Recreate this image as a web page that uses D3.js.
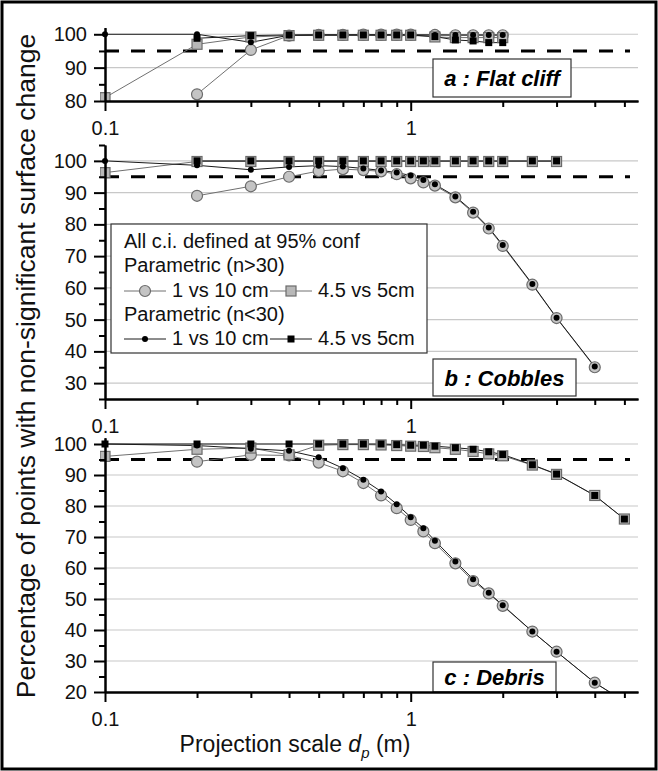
<!DOCTYPE html>
<html>
<head>
<meta charset="utf-8">
<script src="https://cdnjs.cloudflare.com/ajax/libs/d3/7.8.5/d3.min.js"></script>
<style>
body { margin: 0; background: #fff; }
svg { display: block; font-family: "Liberation Sans", Arial, sans-serif; }
.axis .domain { stroke: #000; stroke-width: 2; }
.axis .tick line { stroke: #000; stroke-width: 2; }
.axis .tick text { font-size: 20px; fill: #111; font-family: "Liberation Sans", Arial, sans-serif; }
</style>
</head>
<body>
<svg class="chart"></svg>
<script>
var width = 658,
    height = 771;

// projection scales (m)
var xA = [0.1, 0.2, 0.3, 0.4, 0.5, 0.6, 0.7, 0.8, 0.9, 1.0, 1.2, 1.4, 1.6, 1.8, 2.0];
var xB = [0.1, 0.2, 0.3, 0.4, 0.5, 0.6, 0.7, 0.8, 0.9, 1.0, 1.1, 1.2, 1.4, 1.6, 1.8, 2.0, 2.5, 3.0, 4.0];
var xC = [0.1, 0.2, 0.3, 0.4, 0.5, 0.6, 0.7, 0.8, 0.9, 1.0, 1.1, 1.2, 1.4, 1.6, 1.8, 2.0, 2.5, 3.0, 4.0, 5.0];

// a : Flat cliff
var aCircGray = [82, 95.3, 99.6, 99.8, 99.8, 99.9, 99.9, 99.9, 99.9, 99.8, 99.7, 99.7, 99.7, 99.7];      // from 0.2
var aSqGray   = [81, 97, 99.2, 99.6, 99.7, 99.7, 99.7, 99.7, 99.7, 99.7, 99.2, 99, 99, 99, 99];
var aDotBlack = [100, 100, 97.6, 99.7, 99.8, 99.8, 99.8, 99.8, 99.8, 99.8, 99.8, 99.8, 99.8, 99.8, 99.8];
var aSqBlack  = [98.8, 99.6, 99.8, 99.8, 99.8, 99.8, 99.8, 99.8, 99.8, 99.3, 98.3, 98, 97.5, 97.5];       // from 0.2

// b : Cobbles
var bCircGray = [89, 92, 95, 96.8, 97.4, 97.1, 96.7, 95.8, 94.5, 93.2, 92.2, 88.5, 83.7, 78.7, 73.2, 61, 50.5, 35]; // from 0.2
var bSqGray   = [96.3, 99.8, 99.8, 99.8, 99.8, 99.8, 99.8, 99.8, 99.8, 99.8, 99.8, 99.8, 99.8, 99.8, 99.8, 99.8, 99.8, 99.8]; // to 3.0
var bDotBlack = [100, 98.6, 97.2, 98.1, 98.5, 98.2, 97.6, 97, 96.3, 95.4, 94, 92.6, 88.8, 84, 79, 73.5, 61.2, 50.6, 35.2];
var bSqBlack  = [100, 100, 100, 100, 100, 100, 100, 100, 100, 100, 100, 100, 100, 100, 100, 100, 100];  // 0.2 to 3.0

// c : Debris
var cCircGray = [94.3, 96.5, 96.3, 94, 91.2, 87.4, 83.4, 79.3, 75.5, 71.8, 68, 61.5, 55.8, 51.8, 47.8, 39.5, 33, 23, 17]; // from 0.2
var cSqGray   = [96, 98.3, 98.7, 96.5, 99.6, 99.8, 99.8, 99.7, 99.5, 99.3, 99.2, 98.8, 98.3, 97.6, 96.8, 96.2, 93.2, 90.2, 83.4, 75.8];
var cDotBlack = [100, 99.5, 98.5, 97.8, 95.7, 92.2, 88.5, 84.7, 80.6, 76.4, 72.8, 68.8, 62.1, 56.4, 52, 48, 39.5, 33, 23, 17];
var cSqBlack  = [100, 100, 100, 100, 100, 100, 100, 100, 99.8, 99.6, 99.6, 99.3, 98.8, 98.3, 97.5, 96.6, 93.3, 90.3, 83.4, 75.8];

var xMajor = [0.1, 1];
var xMinor = [0.2, 0.3, 0.4, 0.5, 0.6, 0.7, 0.8, 0.9, 2, 3, 4, 5];

var legendTitle = ["All c.i. defined at 95% conf", "Parametric (n>30)", "Parametric (n<30)"];
var legendNames = ["1 vs 10 cm", "4.5 vs 5cm"];

var panels = [
  { label: "a : Flat cliff", yDomain: [80, 102], yRange: [101, 27.6], box: [433, 59, 138, 38],
    series: [[xA.slice(1), aCircGray, "circGray"], [xA, aSqGray, "sqGray"], [xA, aDotBlack, "dotBlack"], [xA.slice(1), aSqBlack, "sqBlack"]] },
  { label: "b : Cobbles", yDomain: [25, 105], yRange: [399, 145], box: [433, 359, 143, 37],
    series: [[xB.slice(1), bCircGray, "circGray"], [xB.slice(0, 18), bSqGray, "sqGray"], [xB, bDotBlack, "dotBlack"], [xB.slice(1, 18), bSqBlack, "sqBlack"]] },
  { label: "c : Debris", yDomain: [20, 102], yRange: [692, 437.8], box: [433, 662, 123, 30],
    series: [[xC.slice(1), cCircGray, "circGray"], [xC, cSqGray, "sqGray"], [xC, cDotBlack, "dotBlack"], [xC, cSqBlack, "sqBlack"]] }
];

var x = d3.scaleLog()
    .domain([0.1, 5.54])
    .range([105, 638]);

var chart = d3.select(".chart")
    .attr("width", width)
    .attr("height", height);

chart.append("rect")
    .attr("x", 2).attr("y", 2)
    .attr("width", width - 4).attr("height", height - 4)
    .attr("fill", "#fff").attr("stroke", "#000").attr("stroke-width", 3);

function drawMarker(g, type, cx, cy) {
  if (type == "circGray") {
    g.append("circle").attr("cx", cx).attr("cy", cy).attr("r", 5.5)
      .attr("fill", "#c4c4c4").attr("stroke", "#6b6b6b").attr("stroke-width", 1.2);
  } else if (type == "sqGray") {
    g.append("rect").attr("x", cx - 5).attr("y", cy - 5).attr("width", 10).attr("height", 10)
      .attr("fill", "#b8b8b8").attr("stroke", "#6b6b6b").attr("stroke-width", 1.2);
  } else if (type == "dotBlack") {
    g.append("circle").attr("cx", cx).attr("cy", cy).attr("r", 3).attr("fill", "#000");
  } else {
    g.append("rect").attr("x", cx - 3.5).attr("y", cy - 3.5).attr("width", 7).attr("height", 7).attr("fill", "#000");
  }
}

panels.forEach(function(p, i) {
  var y = d3.scaleLinear().domain(p.yDomain).range(p.yRange);
  var g = chart.append("g");

  var gridVals = d3.range(Math.ceil(p.yDomain[0] / 10) * 10, 101, 10).filter(function(v) { return v > p.yDomain[0]; });
  g.selectAll(".grid").data(gridVals).enter().append("line")
    .attr("x1", x.range()[0]).attr("x2", x.range()[1])
    .attr("y1", function(d) { return y(d); }).attr("y2", function(d) { return y(d); })
    .attr("stroke", "#c8c8c8").attr("stroke-width", 1.2);

  g.append("line")
    .attr("x1", 105).attr("x2", 630)
    .attr("y1", y(95)).attr("y2", y(95))
    .attr("stroke", "#000").attr("stroke-width", 3).attr("stroke-dasharray", "14,12");

  var clipId = "clip" + i;
  chart.append("clipPath").attr("id", clipId).append("rect")
    .attr("x", 100).attr("y", p.yRange[1] - 10)
    .attr("width", 545).attr("height", p.yRange[0] - p.yRange[1] + 10);

  var plot = g.append("g").attr("clip-path", "url(#" + clipId + ")");

  p.series.forEach(function(s) {
    var pts = s[0].map(function(xv, j) { return [x(xv), y(s[1][j])]; });
    var gray = s[2] == "circGray" || s[2] == "sqGray";
    plot.append("path")
      .attr("d", d3.line()(pts))
      .attr("fill", "none")
      .attr("stroke", gray ? "#707070" : "#1a1a1a")
      .attr("stroke-width", 1);
  });
  p.series.forEach(function(s) {
    s[0].forEach(function(xv, j) { drawMarker(plot, s[2], x(xv), y(s[1][j])); });
  });

  // panel label
  var b = p.box;
  g.append("rect").attr("x", b[0]).attr("y", b[1]).attr("width", b[2]).attr("height", b[3])
    .attr("fill", "#fff").attr("stroke", "#333").attr("stroke-width", 1.2);
  g.append("text")
    .attr("x", b[0] + b[2] / 2).attr("y", b[1] + b[3] / 2 + 8)
    .attr("text-anchor", "middle")
    .style("font-size", "22px").style("font-weight", "bold").style("font-style", "italic")
    .text(p.label);

  // axes
  var yMajor = d3.range(Math.ceil(p.yDomain[0] / 10) * 10, 101, 10);
  var yMinor = d3.range(Math.ceil(p.yDomain[0] / 5) * 5, p.yDomain[1] + 0.1, 5).filter(function(v) { return v % 10 != 0; });

  g.append("g").attr("class", "axis")
    .attr("transform", "translate(105,0)")
    .call(d3.axisLeft(y).tickValues(yMinor).tickSize(6).tickSizeOuter(0).tickFormat(""));
  g.append("g").attr("class", "axis")
    .attr("transform", "translate(105,0)")
    .call(d3.axisLeft(y).tickValues(yMajor).tickSize(11).tickSizeOuter(0).tickPadding(7));

  g.append("g").attr("class", "axis")
    .attr("transform", "translate(0," + p.yRange[0] + ")")
    .call(d3.axisBottom(x).tickValues(xMinor).tickSize(6).tickSizeOuter(0).tickFormat(""));
  g.append("g").attr("class", "axis")
    .attr("transform", "translate(0," + p.yRange[0] + ")")
    .call(d3.axisBottom(x).tickValues(xMajor).tickSize(10).tickSizeOuter(0).tickPadding(10)
      .tickFormat(function(d) { return String(d); }));

  // legend lives in panel b
  if (i == 1) {
    var lg = chart.append("g");
    lg.append("rect").attr("x", 111).attr("y", 224).attr("width", 316).attr("height", 129)
      .attr("fill", "#fff").attr("stroke", "#333").attr("stroke-width", 1.2);
    var rows = [
      { t: legendTitle[0], y: 248 },
      { t: legendTitle[1], y: 272 },
      { sym: ["circGray", "sqGray"], y: 297 },
      { t: legendTitle[2], y: 321 },
      { sym: ["dotBlack", "sqBlack"], y: 345 }
    ];
    rows.forEach(function(r) {
      if (r.t) {
        lg.append("text").attr("x", 124).attr("y", r.y).style("font-size", "20px").attr("fill", "#111").text(r.t);
      } else {
        [124, 270].forEach(function(lx, k) {
          var gray = r.sym[k] == "circGray" || r.sym[k] == "sqGray";
          lg.append("line").attr("x1", lx).attr("x2", lx + 42).attr("y1", r.y - 6).attr("y2", r.y - 6)
            .attr("stroke", gray ? "#707070" : "#1a1a1a").attr("stroke-width", 1);
          drawMarker(lg, r.sym[k], lx + 21, r.y - 6);
          lg.append("text").attr("x", lx + 48).attr("y", r.y).style("font-size", "20px").attr("fill", "#111")
            .text(legendNames[k]);
        });
      }
    });
  }
});

// axis titles
var xt = chart.append("text")
    .attr("x", 295).attr("y", 752)
    .attr("text-anchor", "middle")
    .style("font-size", "23px").attr("fill", "#111");
xt.append("tspan").text("Projection scale ");
xt.append("tspan").style("font-style", "italic").text("d");
xt.append("tspan").style("font-style", "italic").style("font-size", "15px").attr("dy", 6).text("p");
xt.append("tspan").attr("dy", -6).text(" (m)");

chart.append("text")
    .attr("transform", "translate(35,366) rotate(-90)")
    .attr("text-anchor", "middle")
    .style("font-size", "26.5px").attr("fill", "#111")
    .text("Percentage of points with non-significant surface change");
</script>
</body>
</html>
